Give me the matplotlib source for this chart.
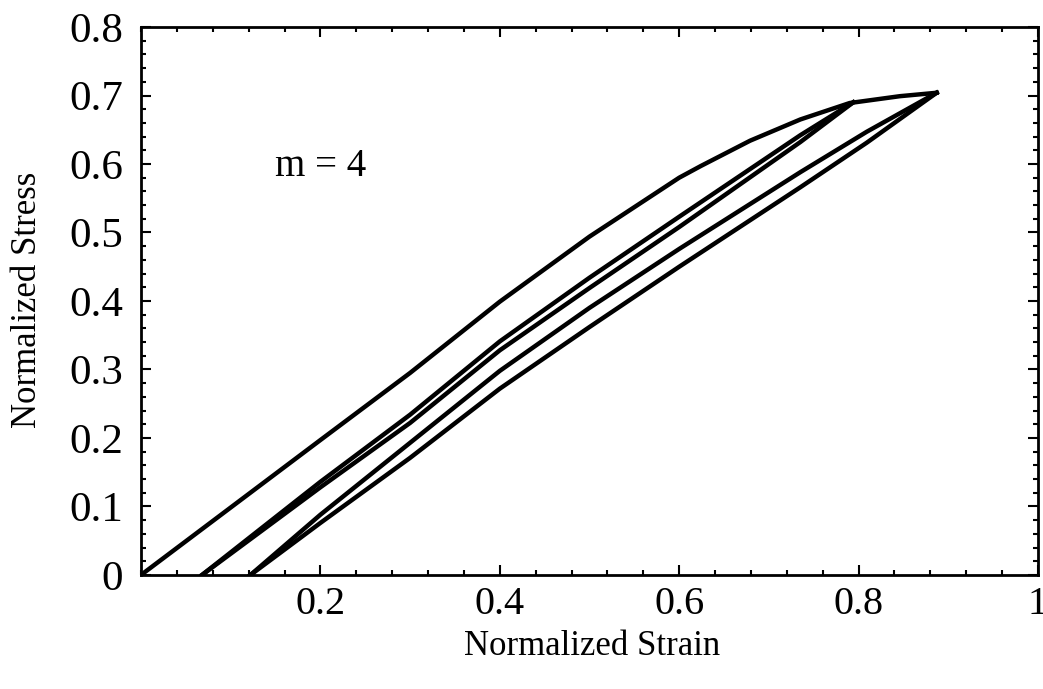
import numpy as np
import matplotlib.pyplot as plt
from matplotlib.ticker import MultipleLocator, FuncFormatter

plt.rcParams['font.family'] = ['Liberation Serif', 'DejaVu Serif']

# first loading curve
load_x = [0, 0.2, 0.3, 0.4, 0.5, 0.6, 0.624, 0.679, 0.735, 0.79, 0.846, 0.887]
load_y = [0, 0.197, 0.295, 0.399, 0.494, 0.580, 0.597, 0.634, 0.665, 0.689, 0.699, 0.704]

# first unload / reload loop
loop1_x = [0.068, 0.2, 0.3, 0.4, 0.5, 0.6, 0.735, 0.794]
loop1_lo = [0, 0.128, 0.222, 0.328, 0.419, 0.508, 0.632, 0.690]
loop1_hi = [0, 0.136, 0.234, 0.341, 0.434, 0.523, 0.642, 0.690]

# second unload / reload loop
loop2_x = [0.122, 0.2, 0.3, 0.4, 0.5, 0.6, 0.735, 0.809, 0.887]
loop2_lo = [0, 0.076, 0.171, 0.272, 0.362, 0.450, 0.566, 0.631, 0.704]
loop2_hi = [0, 0.088, 0.193, 0.298, 0.390, 0.476, 0.588, 0.647, 0.704]

fig = plt.figure(figsize=(10.43, 6.89), dpi=100)
ax = fig.add_axes([0.1352, 0.1655, 0.86, 0.7953])

lw = 3.2
ax.plot(load_x, load_y, color='black', lw=lw)
ax.plot(loop1_x, loop1_lo, color='black', lw=lw)
ax.plot(loop1_x, loop1_hi, color='black', lw=lw)
ax.plot(loop2_x, loop2_lo, color='black', lw=lw)
ax.plot(loop2_x, loop2_hi, color='black', lw=lw)

ax.text(0.20, 0.596, 'm = 4', fontsize=28, ha='center', va='center')

ax.set_xlim(0, 1)
ax.set_ylim(0, 0.8)
ax.set_xticks([0.2, 0.4, 0.6, 0.8, 1.0])
ax.set_yticks(np.arange(0, 0.81, 0.1))
ax.xaxis.set_minor_locator(MultipleLocator(0.04))
ax.yaxis.set_minor_locator(MultipleLocator(0.02))


def fmt(v, pos):
    v = round(v, 2)
    if v == 0:
        return '0'
    if v == 1:
        return '1'
    return '%.1f' % v


ax.xaxis.set_major_formatter(FuncFormatter(fmt))
ax.yaxis.set_major_formatter(FuncFormatter(fmt))

ax.tick_params(which='both', direction='in', top=True, right=True, width=1.5)
ax.tick_params(which='major', length=7)
ax.tick_params(which='minor', length=3.5)
ax.tick_params(axis='x', which='major', pad=8, labelsize=29)
ax.tick_params(axis='y', which='major', pad=13, labelsize=31)
for s in ax.spines.values():
    s.set_linewidth(2)

ax.set_xlabel('Normalized Strain', fontsize=25)
ax.set_ylabel('Normalized Stress', fontsize=25)
ax.xaxis.set_label_coords(0.503, -0.13)
ax.xaxis.label.set_va('center')
ax.yaxis.set_label_coords(-0.126, 0.502)
ax.yaxis.label.set_va('center')

plt.savefig('out.png')
